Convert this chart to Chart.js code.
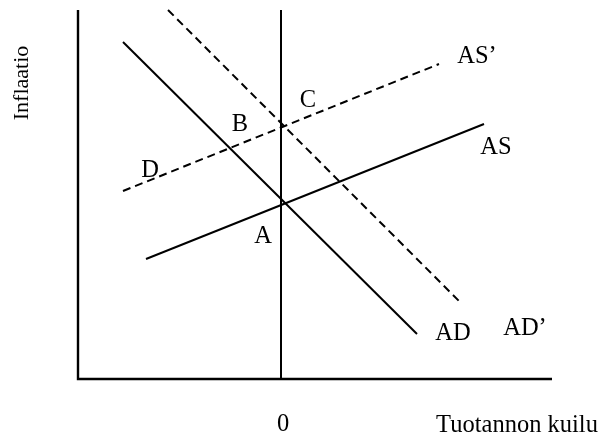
<!DOCTYPE html>
<html>
<head>
<meta charset="utf-8">
<title>AD-AS</title>
<script src="https://cdn.jsdelivr.net/npm/chart.js@4/dist/chart.umd.min.js"></script>
<style>
  body { margin: 0; background: #fff; }
  canvas { display: block; }
</style>
</head>
<body>
<canvas id="adasChart" width="600" height="436"></canvas>
<script>
// curve end points (output gap on x, inflation on y)
const adX = [-15.8, 13.6];
const adY = [33.7, 4.5];
const ad2X = [-11.3, 17.8];
const ad2Y = [36.9, 7.8];
const asX = [-13.5, 20.3];
const asY = [12.0, 25.5];
const as2X = [-15.8, 15.8];
const as2Y = [18.8, 31.5];
const zeroX = [0, 0];
const zeroY = [0, 36.9];

const curveNames = ["AD", "AD\u2019", "AS", "AS\u2019"];
const pointNames = ["A", "B", "C", "D"];
const xTitle = "Tuotannon kuilu";
const yTitle = "Inflaatio";

// where the texts sit, in data units
const curveLabelPos = [[17.2, 4.5], [24.4, 5.0], [21.5, 23.1], [19.6, 32.2]];
const pointLabelPos = [[-1.8, 14.2], [-4.1, 25.4], [2.7, 27.8], [-13.1, 20.8]];

function pts(xs, ys) {
  return xs.map((x, i) => ({ x: x, y: ys[i] }));
}

function line(xs, ys, dashed) {
  return {
    data: pts(xs, ys),
    showLine: true,
    borderColor: '#000',
    borderWidth: 2,
    borderDash: dashed ? [8, 5] : [],
    pointRadius: 0,
    fill: false,
    clip: false
  };
}

const textPlugin = {
  id: 'texts',
  afterDraw(chart) {
    const ctx = chart.ctx;
    const xs = chart.scales.x;
    const ys = chart.scales.y;
    const area = chart.chartArea;
    ctx.save();
    // axes
    ctx.strokeStyle = '#000';
    ctx.lineWidth = 2.4;
    ctx.beginPath();
    ctx.moveTo(area.left, area.top);
    ctx.lineTo(area.left, area.bottom);
    ctx.lineTo(area.right, area.bottom);
    ctx.stroke();

    ctx.fillStyle = '#000';
    ctx.font = '24.5px "Liberation Serif", "Times New Roman", serif';
    ctx.textAlign = 'center';
    ctx.textBaseline = 'middle';
    curveNames.forEach((n, i) => {
      ctx.fillText(n, xs.getPixelForValue(curveLabelPos[i][0]), ys.getPixelForValue(curveLabelPos[i][1]));
    });
    pointNames.forEach((n, i) => {
      ctx.fillText(n, xs.getPixelForValue(pointLabelPos[i][0]), ys.getPixelForValue(pointLabelPos[i][1]));
    });
    ctx.fillText('0', xs.getPixelForValue(0.2), area.bottom + 46);
    ctx.fillText(xTitle, 517, area.bottom + 47);

    ctx.font = '22px "Liberation Serif", "Times New Roman", serif';
    ctx.translate(22, 83);
    ctx.rotate(-Math.PI / 2);
    ctx.fillText(yTitle, 0, 0);
    ctx.restore();
  }
};

document.addEventListener("DOMContentLoaded", function() {
  new Chart("adasChart", {
    type: "scatter",
    data: {
      datasets: [
        line(adX, adY, false),
        line(ad2X, ad2Y, true),
        line(asX, asY, false),
        line(as2X, as2Y, true),
        line(zeroX, zeroY, false)
      ]
    },
    options: {
      responsive: false,
      animation: false,
      layout: { padding: { left: 78, right: 48, top: 10, bottom: 57 } },
      scales: {
        x: { type: 'linear', min: -20.3, max: 27.1, display: false },
        y: { type: 'linear', min: 0, max: 36.9, display: false }
      },
      plugins: {
        legend: { display: false },
        tooltip: { enabled: false }
      }
    },
    plugins: [textPlugin]
  });
});
</script>
</body>
</html>
